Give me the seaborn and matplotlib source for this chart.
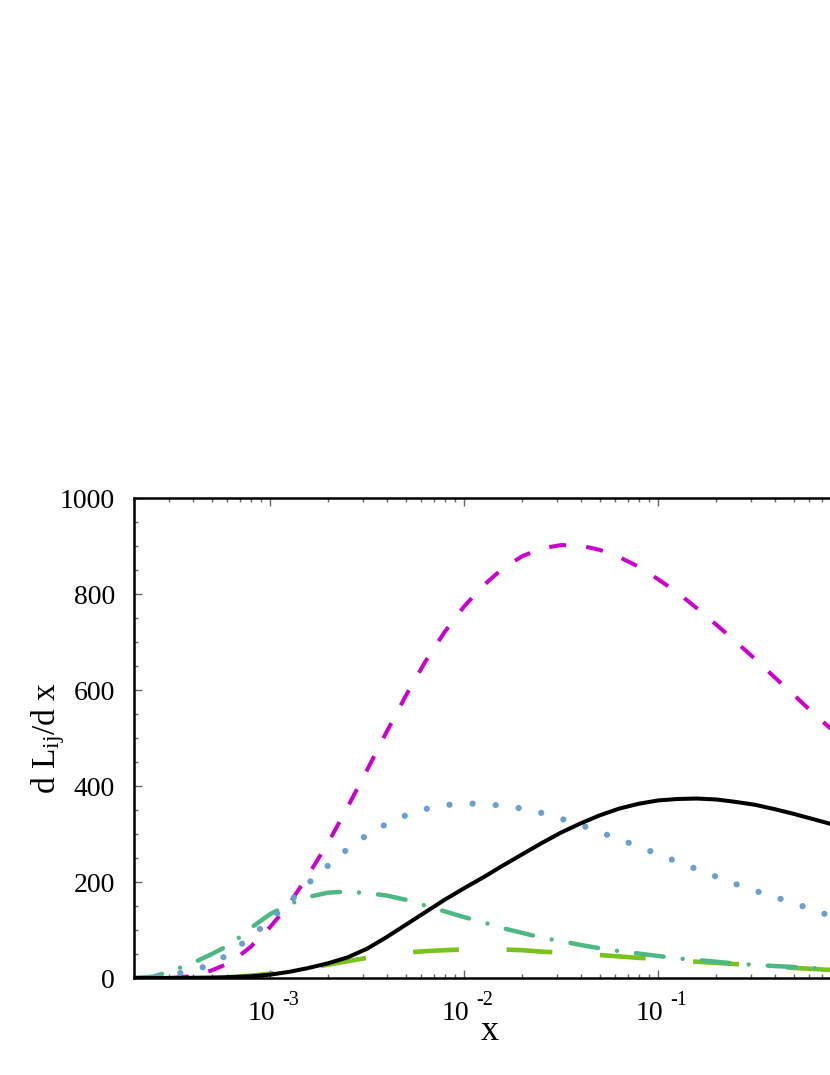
# plot.py
# Luminosity curves dL_ij/dx versus x on a log axis (gnuplot look, seaborn/matplotlib).

import numpy as np
import pandas as pd
import matplotlib
matplotlib.use("Agg")
import matplotlib.pyplot as plt
import matplotlib.ticker as mticker
import seaborn as sns

# x grid (values every 0.1 decade)
x_vals = [2.00e-4, 2.51e-4, 3.16e-4, 3.98e-4, 5.01e-4, 6.31e-4, 7.94e-4,
          1.00e-3, 1.26e-3, 1.58e-3, 2.00e-3, 2.51e-3, 3.16e-3, 3.98e-3, 5.01e-3, 6.31e-3, 7.94e-3,
          1.00e-2, 1.26e-2, 1.58e-2, 2.00e-2, 2.51e-2, 3.16e-2, 3.98e-2, 5.01e-2, 6.31e-2, 7.94e-2,
          1.00e-1, 1.26e-1, 1.58e-1, 2.00e-1, 2.51e-1, 3.16e-1, 3.98e-1, 5.01e-1, 6.31e-1, 7.94e-1,
          1.00]

black_vals = [0, 0, 0, 0.5, 1, 2, 3.5, 7, 13, 21, 31, 43, 61, 85, 111, 137, 163, 187, 210, 234,
              258, 281, 303, 322, 339, 353, 363, 370, 373, 374, 372, 367, 361, 352, 342, 331, 320, 308]
magenta_vals = [0, 0, 0.5, 4, 16, 33, 65, 106, 155, 216, 283, 356, 433, 512, 588, 659, 721, 774, 818,
                853, 879, 895, 902, 901, 892, 877, 857, 831, 803, 771, 736, 701, 665, 627, 590, 552, 516, 480]
blue_vals = [0, 2, 7.5, 15, 29, 53, 86, 120, 159, 198, 235, 269, 298, 321, 339, 352, 360, 364, 362.5,
             359, 353, 344, 332, 319, 304, 289, 274, 258, 242, 227, 211, 196, 182, 169, 156, 142, 128, 114]
green_vals = [0, 3, 16, 31, 50, 71, 104, 133, 154, 169, 178, 180, 177, 172, 163, 151, 139, 127, 116,
              104, 94, 84, 77, 69, 62, 56, 51, 46, 41, 37.5, 34, 30, 27.5, 25, 23, 20.5, 19, 17]
yellow_vals = [0, 0, 0, 0, 0.5, 2, 5, 9, 15, 21, 28, 35, 42, 48, 53, 56, 58, 59.5, 60, 59.5, 58, 55,
               53, 51, 48, 45, 42, 40, 37, 34, 31.5, 29, 26.5, 24, 21, 19, 16.5, 14]

x_major = [1e-3, 1e-2, 1e-1]
x_major_exp = ["-3", "-2", "-1"]

sns.set_style("ticks")
plt.rcParams["font.family"] = ["Liberation Serif", "DejaVu Serif"]
plt.rcParams["mathtext.fontset"] = "custom"
plt.rcParams["mathtext.rm"] = "Liberation Serif"
plt.rcParams["mathtext.it"] = "Liberation Serif:italic"
plt.rcParams["text.color"] = "black"
plt.rcParams["axes.labelcolor"] = "black"

df = pd.DataFrame({
    "x": x_vals,
    "black": black_vals,
    "magenta": magenta_vals,
    "blue": blue_vals,
    "green": green_vals,
    "yellow": yellow_vals,
})

fig = plt.figure(figsize=(8.3, 10.75), dpi=100)
# plot area runs past the right edge of the picture, as in the reference
ax = fig.add_axes([0.162, 0.0902, 0.8645, 0.4465])

sns.lineplot(data=df, x="x", y="yellow", ax=ax, color="#78c21c", linewidth=3.3,
             linestyle=(0, (10, 10.4)), dash_capstyle="butt", errorbar=None)
sns.lineplot(data=df, x="x", y="magenta", ax=ax, color="#cc00cc", linewidth=2.9,
             linestyle=(0, (4.25, 5.0)), dash_capstyle="butt", errorbar=None)
sns.lineplot(data=df, x="x", y="green", ax=ax, color="#4cb882", linewidth=3.2,
             linestyle=(0, (6.3, 4.3, 0.001, 4.3)), dash_capstyle="round", errorbar=None)
sns.lineplot(data=df, x="x", y="blue", ax=ax, color="#6a9fcf", linewidth=4.5,
             linestyle=(0, (0.001, 3.7)), dash_capstyle="round", errorbar=None)
sns.lineplot(data=df, x="x", y="black", ax=ax, color="black", linewidth=2.9,
             errorbar=None)

ax.set_xscale("log")
ax.set_xlim(2.0e-4, 1.0)
ax.set_ylim(0, 1000)

# axes frame and ticks
for side in ["left", "right", "top", "bottom"]:
    ax.spines[side].set_visible(True)
    ax.spines[side].set_linewidth(1.8)
    ax.spines[side].set_color("black")

ax.yaxis.set_major_locator(mticker.MultipleLocator(200))
ax.yaxis.set_minor_locator(mticker.MultipleLocator(50))
ax.yaxis.set_major_formatter(mticker.FormatStrFormatter("%d"))
ax.xaxis.set_major_locator(mticker.FixedLocator(x_major))
ax.xaxis.set_minor_locator(mticker.LogLocator(base=10, subs=np.arange(2, 10)))
ax.xaxis.set_major_formatter(mticker.NullFormatter())
ax.xaxis.set_minor_formatter(mticker.NullFormatter())
ax.tick_params(which="both", direction="in", top=True, right=True, color="#666666",
               width=1.0, labelcolor="black")
ax.tick_params(which="major", length=5.5)
ax.tick_params(which="minor", length=3.0)
ax.tick_params(axis="y", labelsize=20, pad=14)

# gnuplot style "10 ^-3" tick labels
for v, e in zip(x_major, x_major_exp):
    ax.annotate("10", xy=(v, 0), xycoords=("data", "axes fraction"), xytext=(3.6, -30.2),
                textcoords="offset points", ha="right", va="baseline", fontsize=20)
    ax.annotate(e, xy=(v, 0), xycoords=("data", "axes fraction"), xytext=(8.6, -19.4),
                textcoords="offset points", ha="left", va="baseline", fontsize=14.5)

ax.set_xlabel("x", fontsize=26)
ax.xaxis.label.set_va("baseline")
ax.xaxis.set_label_coords(0.495, -0.129)
ax.set_ylabel(r"d L$_{\mathregular{ij}}$/d x", fontsize=24)
ax.yaxis.label.set_va("center")
ax.yaxis.set_label_coords(-0.1206, 0.5)

fig.savefig("out.png", dpi=100)
